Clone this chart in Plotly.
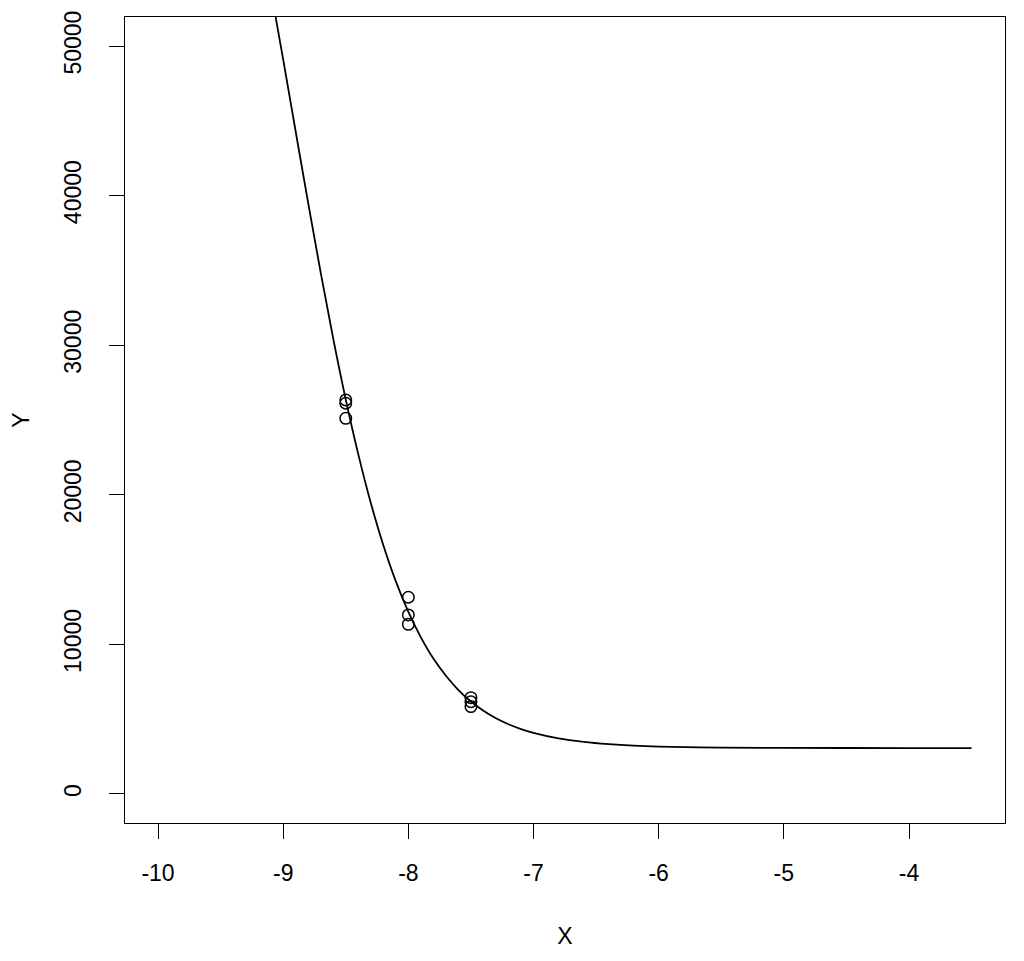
import plotly.graph_objects as go

# Observed points
pt_x = [-8.5, -8.5, -8.5, -8.0, -8.0, -8.0, -7.5, -7.5, -7.5]
pt_y = [26340, 26120, 25110, 13150, 11970, 11340, 6440, 6170, 5840]

# Fitted curve, values
curve_x = [-9.2, -9.1, -9.0, -8.9, -8.8, -8.7, -8.6, -8.5, -8.4, -8.3, -8.2, -8.1,
           -8.0, -7.9, -7.8, -7.7, -7.6, -7.5, -7.4, -7.3, -7.2, -7.1, -7.0,
           -6.8, -6.6, -6.4, -6.2, -6.0, -5.5, -5.0, -4.5, -4.0, -3.5]
curve_y = [58300, 53790, 49090, 44270, 39480, 34830, 30420, 26360, 22700, 19450, 16630, 14210,
           12170, 10470, 9050, 7900, 6950, 6180, 5560, 5060, 4660, 4340, 4080,
           3710, 3480, 3330, 3230, 3170, 3100, 3080, 3073, 3071, 3070]

x_ticks = [-10, -9, -8, -7, -6, -5, -4]
y_ticks = [0, 10000, 20000, 30000, 40000, 50000]

FONT = "Liberation Sans, Arial, Helvetica, sans-serif"

fig = go.Figure()
fig.add_trace(go.Scatter(x=curve_x, y=curve_y, mode="lines", line_shape="spline",
                         line=dict(color="black", width=1.8), showlegend=False))
fig.add_trace(go.Scatter(x=pt_x, y=pt_y, mode="markers", showlegend=False,
                         marker=dict(symbol="circle-open", size=11.5,
                                     line=dict(color="black", width=1.5), color="black")))

axis_common = dict(showgrid=False, zeroline=False, showline=True, linecolor="black",
                   linewidth=1.2, mirror=True, ticks="outside", ticklen=15, tickwidth=1,
                   tickcolor="black", automargin=False,
                   tickfont=dict(family=FONT, size=23, color="black"),
                   title_font=dict(family=FONT, size=23, color="black"))

fig.update_xaxes(range=[-10.264, -3.233], tickvals=x_ticks,
                 ticktext=[str(v) for v in x_ticks], title_text="X",
                 ticklabelstandoff=14, title_standoff=43, **axis_common)
fig.update_yaxes(range=[-1940, 51940], tickvals=y_ticks,
                 ticktext=[str(v) for v in y_ticks], tickangle=-90, title_text="Y",
                 ticklabelstandoff=19, title_standoff=31, **axis_common)

fig.update_layout(width=1016, height=953, margin=dict(l=117, r=19, t=9, b=138),
                  plot_bgcolor="white", paper_bgcolor="white",
                  font=dict(family=FONT, color="black"))

fig.write_html("out.html")
